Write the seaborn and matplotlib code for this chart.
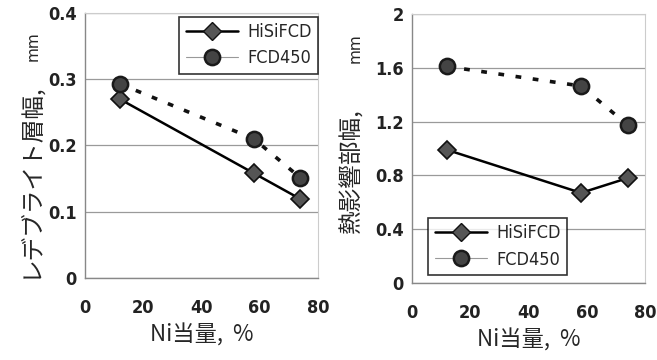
import matplotlib
matplotlib.use('Agg')
import matplotlib.pyplot as plt
from matplotlib.lines import Line2D
import seaborn as sns

# Ni equivalent, %
ni_eq = [12, 58, 74]

# ledeburite layer width, mm
ledeburite_hisi = [0.27, 0.158, 0.119]
ledeburite_fcd = [0.293, 0.21, 0.151]

# heat affected zone width, mm
haz_hisi = [0.99, 0.67, 0.78]
haz_fcd = [1.61, 1.465, 1.175]

x_ticks = [0, 20, 40, 60, 80]
left_yticks = [0, 0.1, 0.2, 0.3, 0.4]
left_ylabels = ['0', '0.1', '0.2', '0.3', '0.4']
right_yticks = [0, 0.4, 0.8, 1.2, 1.6, 2.0]
right_ylabels = ['0', '0.4', '0.8', '1.2', '1.6', '2']

sns.set_style('white')
plt.rcParams['font.family'] = ['DejaVu Sans', 'Noto Sans CJK JP']
jp = ['Noto Sans CJK JP', 'DejaVu Sans']
num = ['DejaVu Sans']

fig = plt.figure(figsize=(6.57, 3.6), dpi=100)
ax1 = fig.add_axes([0.129, 0.228, 0.355, 0.736])
ax2 = fig.add_axes([0.627, 0.214, 0.355, 0.747])


def draw(ax, hisi, fcd):
    sns.lineplot(x=ni_eq, y=hisi, ax=ax, color='black', lw=1.8,
                 marker='D', markersize=9, markerfacecolor='#555555',
                 markeredgecolor='#111111', markeredgewidth=1.2)
    sns.lineplot(x=ni_eq, y=fcd, ax=ax, color='#111111', lw=2.6,
                 linestyle=(0, (1.6, 3.2)),
                 marker='o', markersize=11, markerfacecolor='#444444',
                 markeredgecolor='#1a1a1a', markeredgewidth=1.8)


def style(ax, ticks, labels):
    ax.set_xlim(0, 80)
    ax.set_ylim(ticks[0], ticks[-1])
    ax.set_xticks(x_ticks)
    ax.set_yticks(ticks)
    ax.set_yticklabels(labels)
    ax.grid(axis='y', color='#9a9a9a', lw=0.9)
    ax.set_axisbelow(True)
    for s in ['left', 'bottom']:
        ax.spines[s].set_color('#888888')
        ax.spines[s].set_linewidth(1.0)
    for s in ['top', 'right']:
        ax.spines[s].set_color('#cccccc')
        ax.spines[s].set_linewidth(0.8)
    ax.tick_params(axis='x', direction='in', length=3, color='#888888',
                   pad=15, labelsize=13)
    ax.tick_params(axis='y', length=0, pad=6, labelsize=13)
    for t in ax.get_xticklabels() + ax.get_yticklabels():
        t.set_family(num)
        t.set_stretch('condensed')
        t.set_weight('bold')
        t.set_color('#222222')
    ax.set_xlabel('Ni当量,  %', family=jp, fontsize=16, labelpad=5)


draw(ax1, ledeburite_hisi, ledeburite_fcd)
draw(ax2, haz_hisi, haz_fcd)
style(ax1, left_yticks, left_ylabels)
style(ax2, right_yticks, right_ylabels)

handles = [
    Line2D([], [], color='black', lw=1.8, marker='D', markersize=9,
           markerfacecolor='#555555', markeredgecolor='#111111'),
    Line2D([], [], color='#999999', lw=0.8, marker='o', markersize=11,
           markerfacecolor='#444444', markeredgecolor='#1a1a1a',
           markeredgewidth=1.8),
]
names = ['HiSiFCD', 'FCD450']
for ax, loc, anchor in [(ax1, 'upper right', (1.0, 0.985)),
                        (ax2, 'lower left', (0.07, 0.03))]:
    leg = ax.legend(handles, names, loc=loc, bbox_to_anchor=anchor,
                    frameon=True, fancybox=False, edgecolor='black',
                    handlelength=2.9, borderpad=0.35, labelspacing=0.45,
                    handletextpad=0.5, borderaxespad=0,
                    prop={'family': num, 'size': 13, 'stretch': 'condensed'})
    leg.get_frame().set_linewidth(1.2)

# y-axis labels: Japanese text plus small unit
fig.text(0.045, 0.228, 'レデブライト層幅,', rotation=90, family=jp,
         fontsize=17, ha='center', va='bottom')
fig.text(0.05, 0.83, 'mm', rotation=90, family=num, fontsize=11,
         ha='center', va='bottom')
fig.text(0.535, 0.352, '熱影響部幅,', rotation=90, family=jp,
         fontsize=17, ha='center', va='bottom')
fig.text(0.54, 0.825, 'mm', rotation=90, family=num, fontsize=11,
         ha='center', va='bottom')

fig.savefig('out.png', dpi=100)
